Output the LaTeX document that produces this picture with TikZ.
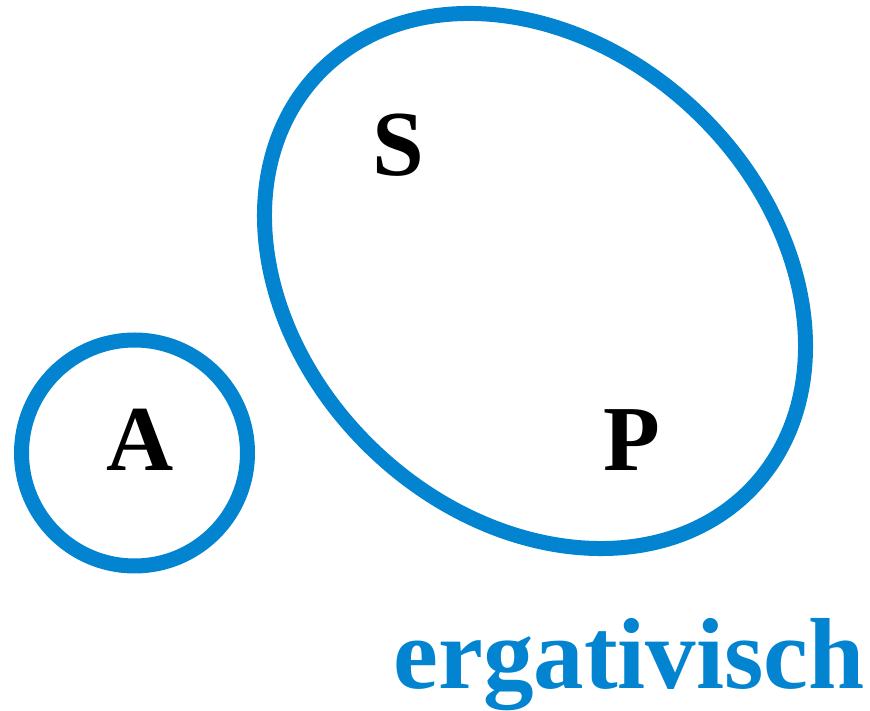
\documentclass[tikz,border=0pt]{standalone}
\usepackage{fontspec}
\setmainfont{Liberation Serif}
\usepackage{tikz}
\usetikzlibrary{shapes.geometric}
\definecolor{setblue}{HTML}{0284D1}

\begin{document}
\begin{tikzpicture}[
   x=1pt,y=1pt,
   font=\bfseries,
   setline/.style ={draw=setblue,line width=15pt,inner sep=0pt},
   role/.style    ={font=\fontsize{93}{93}\selectfont\bfseries,inner sep=0pt},
   caption/.style ={text=setblue,font=\fontsize{101}{101}\selectfont\bfseries,inner sep=0pt}
  ]
  \useasboundingbox (0,0) rectangle (870,711);

  % sets
  \node[setline,circle,minimum size=226pt] (aset) at (134.5,258) {};
  \node[setline,ellipse,minimum width=600pt,minimum height=468pt,rotate=-43.7] (spset) at (535,430) {};

  % roles
  \node[role] (a) at (140,271.5) {A};
  \node[role] (s) at (398,566) {S};
  \node[role] (p) at (632,271) {P};

  % label
  \node[caption,anchor=base east] (erg) at (865,22) {ergativisch};
\end{tikzpicture}
\end{document}
